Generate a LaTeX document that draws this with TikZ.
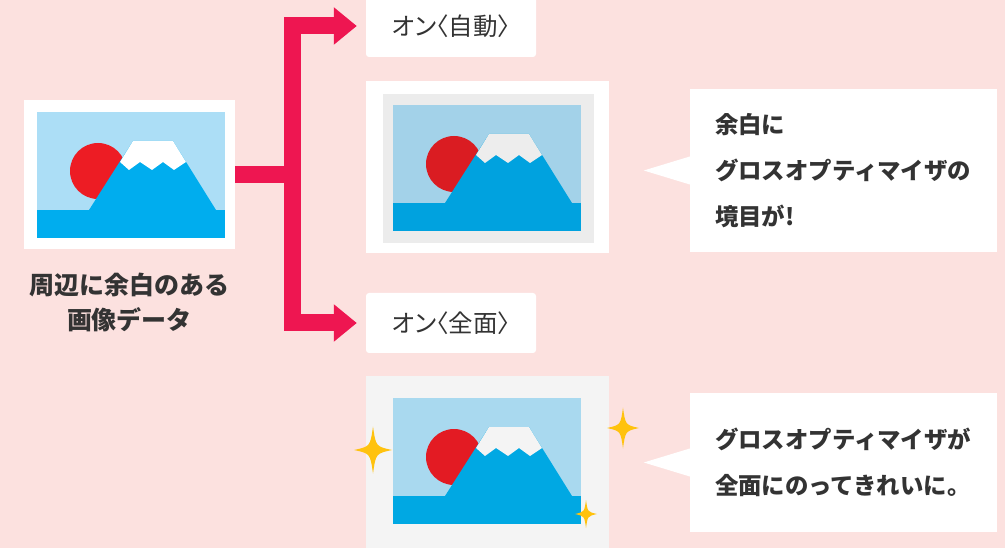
\documentclass[tikz,border=0pt]{standalone}
\usepackage{fontspec}
\newfontfamily\jp{Noto Sans CJK JP}
\newfontfamily\jptag[RawFeature=+palt]{Noto Sans CJK JP}
\usetikzlibrary{arrows.meta}

\definecolor{paper}{HTML}{FCE1DF}
\definecolor{branch}{HTML}{EE1651}
\definecolor{ink}{HTML}{333333}
\definecolor{matte}{HTML}{ECECEC}
\definecolor{fullbg}{HTML}{F4F4F4}
\definecolor{gold}{HTML}{FFC20E}

\tikzset{
  fuji/.pic={
    \fill[fsky] (0,0) rectangle (188,126);
    \fill[fsun] (61,59) circle (28);
    \fill[fsea] (52,98) -- (96,29) -- (136,29) -- (179,98) -- cycle;
    \fill[fsnow] (96,29) -- (136,29) -- (149,50) -- (137,58) -- (126,50) -- (115,58)
      -- (103,50) -- (92,58) -- (83,50) -- cycle;
    \fill[fsea] (0,98) rectangle (188,126);
  },
  sparkle/.pic={
    \fill[gold] (0,-1) .. controls (0.15,-0.15) .. (1,0) .. controls (0.15,0.15) .. (0,1)
      .. controls (-0.15,0.15) .. (-1,0) .. controls (-0.15,-0.15) .. cycle;
  }
}

\begin{document}
\begin{tikzpicture}[x=1pt,y=-1pt,
    frame/.style={fill=white,inner sep=0pt},
    tag/.style={fill=white,rounded corners=3pt,inner sep=0pt,text=ink,
      font=\jptag\fontsize{24.5}{28}\selectfont,minimum width=170pt},
    note/.style={fill=white,inner sep=0pt,text=ink,text width=257pt,align=left,
      minimum width=307pt,font=\jp\bfseries\fontsize{23.4}{46}\selectfont},
    trunk/.style={draw=branch,line width=17pt},
    tip/.style={-{Triangle[length=23pt,width=36pt]},shorten >=9pt}]
  \path[use as bounding box,fill=paper] (0,0) rectangle (1005,548);
  \clip (0,0) rectangle (1005,548);

  % source image
  \node[frame,minimum width=211pt,minimum height=149pt] (photo) at (129.5,174.5) {};
  \definecolor{fsky}{HTML}{ACDEF6}\definecolor{fsea}{HTML}{00ADEE}
  \definecolor{fsun}{HTML}{ED1C24}\definecolor{fsnow}{HTML}{FFFFFF}
  \pic at (37,112) {fuji};
  \node[text=ink,align=center,inner sep=0pt,font=\jp\bfseries\fontsize{25}{35}\selectfont]
    (caption) at (129.5,302.5) {周辺に余白のある\\画像データ};

  % auto
  \node[tag,minimum height=62pt] (autotag) at (451,26) {オン〈自動〉};
  \node[frame,minimum width=243pt,minimum height=172pt] (autoshot) at (487.5,167) {};
  \node[fill=matte,inner sep=0pt,minimum width=211pt,minimum height=149pt] (automatte) at (488.5,168.5) {};
  \definecolor{fsky}{HTML}{A3D2E9}\definecolor{fsea}{HTML}{00A2DF}
  \definecolor{fsun}{HTML}{DA1C22}\definecolor{fsnow}{HTML}{EDEDED}
  \pic at (393,105) {fuji};
  \node[note,minimum height=163pt] (autonote) at (843.5,170.5) {余白に\\グロスオプティマイザの\\境目が!};
  \fill[white] ([yshift=14pt]autonote.west) -- ([xshift=-46pt]autonote.west) -- ([yshift=-14pt]autonote.west) -- cycle;

  % full
  \node[tag,minimum height=60pt] (fulltag) at (451,323) {オン〈全面〉};
  \node[fill=fullbg,inner sep=0pt,minimum width=243pt,minimum height=190pt] (fullshot) at (487.5,471) {};
  \definecolor{fsky}{HTML}{A9D9EF}\definecolor{fsea}{HTML}{00A8E3}
  \definecolor{fsun}{HTML}{E31B23}\definecolor{fsnow}{HTML}{F4F4F4}
  \pic at (393,398) {fuji};
  \path (373,450) pic[xscale=19,yscale=23.5] {sparkle};
  \path (623,428) pic[xscale=16,yscale=20.5] {sparkle};
  \path (586,514) pic[xscale=11,yscale=14] {sparkle};
  \node[note,minimum height=139pt] (fullnote) at (843.5,462.5) {グロスオプティマイザが\\全面にのってきれいに。};
  \fill[white] ([yshift=14pt]fullnote.west) -- ([xshift=-46pt]fullnote.west) -- ([yshift=-14pt]fullnote.west) -- cycle;

  % branches
  \coordinate (junction) at (292,174.5);
  \draw[trunk] (photo.east) -- (junction);
  \draw[trunk,tip] (junction) |- (autotag.west);
  \draw[trunk,tip] (junction) |- (fulltag.west);
\end{tikzpicture}
\end{document}
